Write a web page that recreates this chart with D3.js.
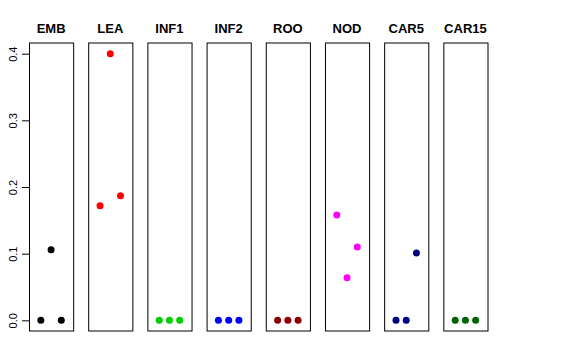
<!DOCTYPE html>
<html lang="en">
<head>
<meta charset="UTF-8">
<script src="https://d3js.org/d3.v7.min.js"></script>
<style>
  body { margin: 0; background: #fff; }
  text { font-family: "Liberation Sans", Arial, Helvetica, sans-serif; }
</style>
</head>
<body>
<svg id="chart" width="576" height="360"></svg>
<script>
// panel names, colours and the three values in each panel
var groups = ["EMB", "LEA", "INF1", "INF2", "ROO", "NOD", "CAR5", "CAR15"]
var colors = ["#000000", "#FF0000", "#00CD00", "#0000FF", "#8B0000", "#FF00FF", "#000080", "#006400"]
var EMB   = [0, 0.106, 0]
var LEA   = [0.172, 0.400, 0.187]
var INF1  = [0, 0, 0]
var INF2  = [0, 0, 0]
var ROO   = [0, 0, 0]
var NOD   = [0.158, 0.064, 0.110]
var CAR5  = [0, 0, 0.101]
var CAR15 = [0, 0, 0]
var yTicks = [0, 0.1, 0.2, 0.3, 0.4]

var values = [EMB, LEA, INF1, INF2, ROO, NOD, CAR5, CAR15]

var svg = d3.select("#chart")

var panel = d3.scaleBand()
    .domain(groups)
    .range([29, 487.5])
    .paddingInner(0.254)
    .paddingOuter(0)

var x = d3.scaleLinear()
    .domain([-0.16, 4.16])
    .range([0, panel.bandwidth()])

var y = d3.scaleLinear()
    .domain([-0.016, 0.416])
    .range([331, 43])

var yAxis = d3.axisLeft(y)
    .tickValues(yTicks)
    .tickFormat(d3.format(".1f"))
    .tickSize(7)
    .tickSizeOuter(0)

var ax = svg.append("g")
    .attr("transform", `translate(${panel(groups[0])},0)`)
    .call(yAxis)
ax.select(".domain").remove()
ax.selectAll(".tick line").attr("stroke", "#000")
ax.selectAll(".tick text")
    .attr("fill", "#000")
    .attr("font-size", 11)
    .attr("transform", "rotate(-90)")
    .attr("x", 0)
    .attr("y", -12)
    .attr("dy", 0)
    .attr("text-anchor", "middle")

groups.forEach(function(g, i) {
    var p = svg.append("g")
        .attr("transform", `translate(${panel(g)},0)`)

    p.append("rect")
        .attr("x", 0.5)
        .attr("y", y(0.416))
        .attr("width", panel.bandwidth())
        .attr("height", y(-0.016) - y(0.416))
        .attr("fill", "none")
        .attr("stroke", "#000")
        .attr("stroke-width", 1)

    p.append("text")
        .attr("x", panel.bandwidth() / 2)
        .attr("y", 33)
        .attr("text-anchor", "middle")
        .attr("font-size", 13)
        .attr("font-weight", "bold")
        .text(g)

    p.selectAll("circle")
        .data(values[i])
        .enter().append("circle")
        .attr("cx", (d, j) => x(j + 1))
        .attr("cy", d => y(d))
        .attr("r", 3.5)
        .attr("fill", colors[i])
})
</script>
</body>
</html>
